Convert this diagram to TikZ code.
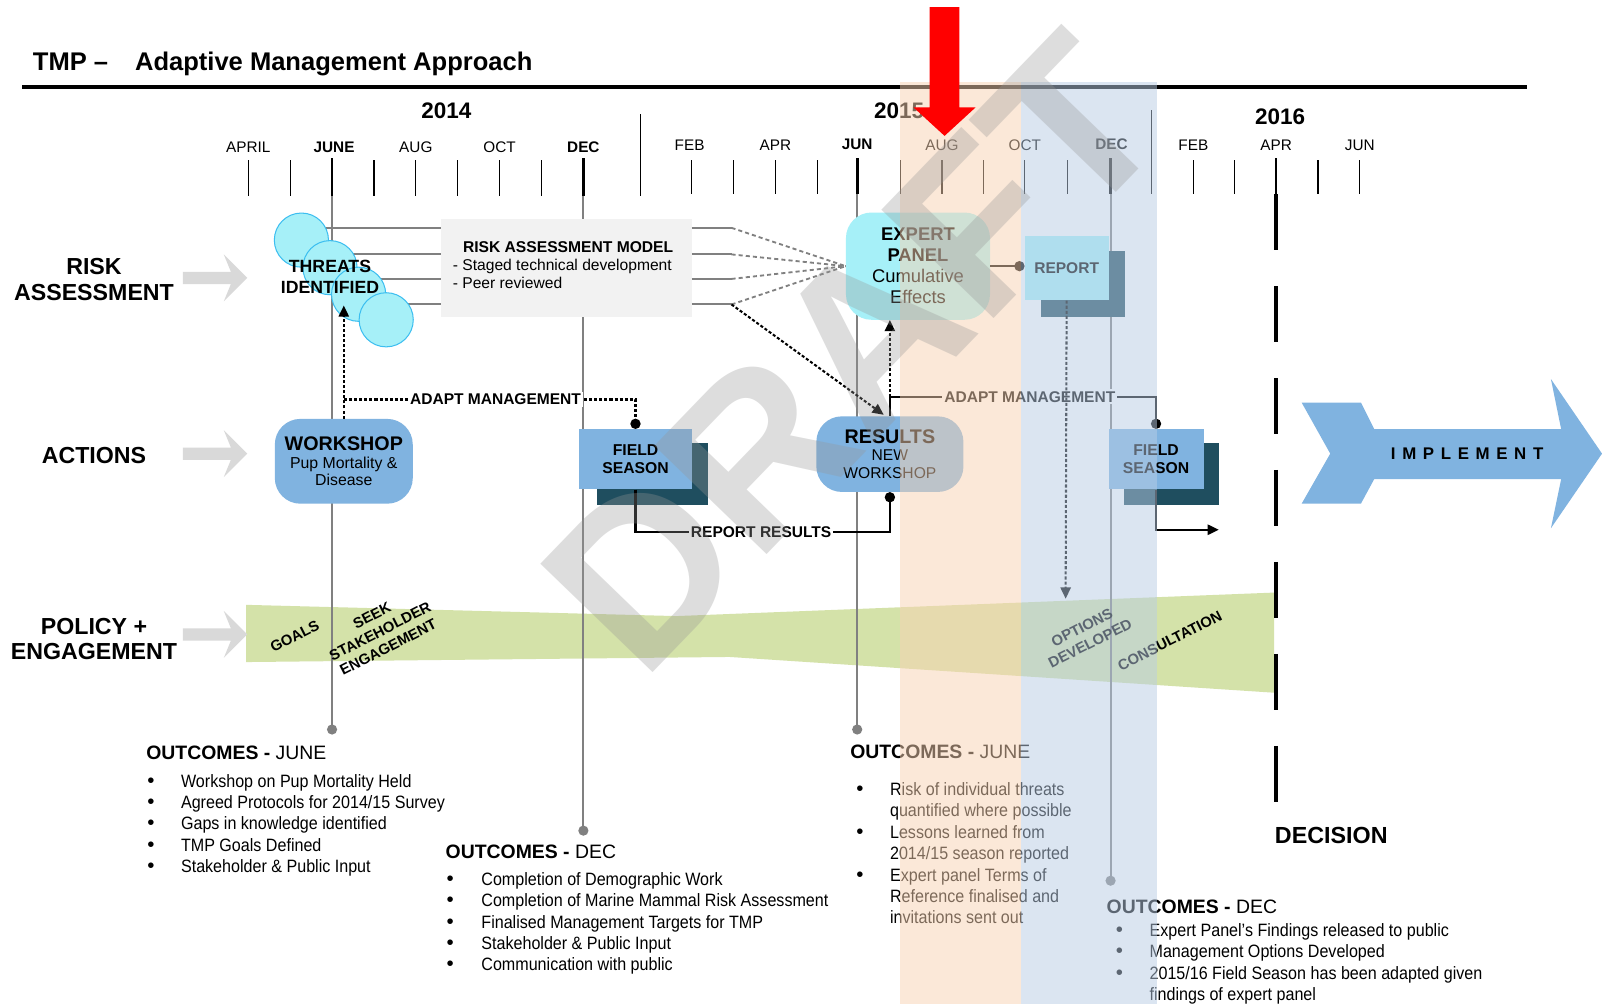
\documentclass[tikz,border=0pt]{standalone}
\usepackage{fontspec}
\setmainfont{Liberation Sans}
\newfontfamily\narrowfont[FakeStretch=0.9]{Liberation Sans}
\usetikzlibrary{arrows.meta}
\definecolor{cyanbox}{RGB}{166,240,248}
\definecolor{cyanline}{RGB}{60,190,240}
\definecolor{actblue}{RGB}{128,179,224}
\definecolor{darkteal}{RGB}{31,78,95}
\definecolor{riskgray}{RGB}{242,242,242}
\definecolor{linegray}{RGB}{128,128,128}
\definecolor{arrgray}{RGB}{217,217,217}
\definecolor{polgreen}{RGB}{212,226,169}
\definecolor{bandorange}{RGB}{249,211,179}
\definecolor{bandblue}{RGB}{185,205,229}
\definecolor{wmgray}{RGB}{150,150,150}
\newcommand\fsz[2]{\fontsize{#1}{#2}\selectfont}
\newcommand\bul{{\fontspec{Liberation Sans}\fsz{20}{21}\textbullet}}
\begin{document}
\begin{tikzpicture}[x=1pt,y=-1pt,
  gline/.style={draw=linegray, line width=2pt},
  tk/.style={draw=black, line width=1.1pt},
  tkb/.style={draw=black, line width=2.6pt},
  dotl/.style={draw=black, line width=2pt, dash pattern=on 3pt off 2pt},
  gdash/.style={draw=linegray, line width=1.8pt, dash pattern=on 4pt off 3pt},
  conn/.style={draw=black, line width=2pt},
  tri/.style={-{Triangle[length=11pt,width=10pt]}},
  dotend/.style={-{Circle[length=10pt,width=10pt]}},
  mon/.style={font=\fsz{15}{18}, inner sep=0},
  monb/.style={font=\bfseries\fsz{15}{18}, inner sep=0},
  yr/.style={font=\bfseries\fsz{22}{26}, inner sep=0},
  rowlbl/.style={font=\bfseries\fsz{22.7}{25}, align=center, inner sep=0},
  circ/.style={circle, minimum size=53pt, inner sep=0, fill=cyanbox, draw=cyanline, line width=1pt},
  actbox/.style={rounded corners=25pt, fill=actblue, inner sep=0, align=center},
  fsfront/.style={fill=actblue, inner sep=0, align=center, font=\bfseries\fsz{15.4}{17}},
  fsback/.style={fill=darkteal, inner sep=0},
  clabel/.style={fill=white, inner sep=2pt, font=\bfseries\fsz{15.2}{17}},
  bandtxt/.style={font=\bfseries\fsz{14.5}{17.5}, align=center, rotate=27, inner sep=0},
  ohead/.style={anchor=base west, inner sep=0, font=\fsz{19}{22}},
  olist/.style={anchor=base west, inner sep=0, font=\narrowfont\fsz{17.5}{21}}
]
\useasboundingbox (0,0) rectangle (1568,983);
\fill[white] (0,0) rectangle (1568,983);

% policy band
\fill[polgreen] (241,592) -- (662,603) -- (1247,580) -- (1247,678) -- (714,643) -- (241,648) -- cycle;

% title
\node[font=\bfseries\fsz{25}{30}, anchor=base west, inner sep=0] (t1) at (32,69) {TMP –};
\node[font=\bfseries\fsz{25}{30}, anchor=base west, inner sep=0] (t2) at (132,69) {Adaptive Management Approach};
\draw[line width=3.5pt] (22,85) -- (1495,85);

% years
\node[yr] (y14) at (437,108) {2014};
\node[yr] (y15) at (880,108) {2015};
\node[yr] (y16) at (1253,114) {2016};

% months
\node[mon] (m1) at (243,144) {APRIL};
\node[monb] (m2) at (327,144) {JUNE};
\node[mon] (m3) at (407,144) {AUG};
\node[mon] (m4) at (489,144) {OCT};
\node[monb] (m5) at (571,144) {DEC};
\node[mon] (m6) at (675,142) {FEB};
\node[mon] (m7) at (759,142) {APR};
\node[monb] (m8) at (839,141) {JUN};
\node[mon] (m9) at (922,142) {AUG};
\node[mon] (m10) at (1003,142) {OCT};
\node[monb] (m11) at (1088,141) {DEC};
\node[mon] (m12) at (1168,142) {FEB};
\node[mon] (m13) at (1249,142) {APR};
\node[mon] (m14) at (1331,142) {JUN};

% ticks
\foreach \x in {243,284,366,407,448,489,530} \draw[tk] (\x,157) -- (\x,192);
\foreach \x in {677,718,759,800,881,922,963,1003,1045,1168,1208,1290,1331} \draw[tk] (\x,157) -- (\x,190);
\draw[tk] (627,112) -- (627,192);
\draw[tk] (1127,108) -- (1127,190);

% long timeline lines
\draw[gline] (325,190) -- (325,714);
\draw[gline] (571,190) -- (571,813);
\draw[gline] (839,188) -- (839,714);
\draw[gline] (1087,188) -- (1087,862);
\foreach \x/\y in {325/714,571/813,839/714,1087/862} \fill[linegray] (\x,\y) circle (5);
\foreach \x in {325,571} \draw[tkb] (\x,155) -- (\x,192);
\foreach \x in {839,1087,1249} \draw[tkb] (\x,155) -- (\x,190);

% decision line
\draw[line width=4pt, dash pattern=on 55pt off 35pt] (1249,190) -- (1249,785);

% row arrows and labels
\foreach \yc in {272,444,621}
  \fill[arrgray] (179,\yc-6) -- (226,\yc-6) -- (219,\yc-23) -- (242,\yc) -- (219,\yc+23) -- (226,\yc+6) -- (179,\yc+6) -- cycle;
\node[rowlbl] (lr) at (92,273.5) {RISK\\ASSESSMENT};
\node[rowlbl] (la) at (92,446) {ACTIONS};
\node[rowlbl] (lp) at (92,625.5) {POLICY +\\ENGAGEMENT};

% risk model box
\node[fill=riskgray, minimum width=245pt, minimum height=96pt, inner sep=0, align=left, font=\fsz{15.3}{17.5}] (rb) at (554.5,262) {};
\node[anchor=west, inner sep=0, align=left, font=\fsz{15.3}{17.2}] (rbt) at (443,259.5)
  {\hspace*{10pt}\textbf{RISK ASSESSMENT MODEL}\\- Staged technical development\\- Peer reviewed};

% coordinates
\coordinate (r1) at (716,223);
\coordinate (r2) at (716,249);
\coordinate (r3) at (716,273);
\coordinate (r4) at (716,298);

% lines from threats to model
\draw[gline] (295,223) -- (rb.west |- r1);
\draw[gline] (323,249) -- (rb.west |- r2);
\draw[gline] (351,273) -- (rb.west |- r3);
\draw[gline] (378,298) -- (rb.west |- r4);
\draw[gline] (rb.east |- r1) -- (r1);
\draw[gline] (rb.east |- r2) -- (r2);
\draw[gline] (rb.east |- r3) -- (r3);
\draw[gline] (rb.east |- r4) -- (r4);

% threats circles
\node[circ] (c1) at (295,235) {};
\node[circ] (c2) at (323,262) {};
\node[circ] (c3) at (351,288) {};
\node[circ] (c4) at (378,313) {};
\node[font=\bfseries\fsz{17.3}{20}, align=center, inner sep=0] (thr) at (323,271) {THREATS\\IDENTIFIED};

% expert panel
\node[rounded corners=25pt, fill=cyanbox, minimum width=141pt, minimum height=105pt, inner sep=0, align=center, font=\fsz{18}{20.5}] (ep) at (898.5,260.5)
  {\textbf{EXPERT}\\\textbf{PANEL}\\Cumulative\\Effects};
\foreach \r in {r1,r2,r3,r4} \draw[gdash] (\r) -- (ep.west);

% report
\node[fsback, minimum width=82pt, minimum height=64pt] (rpb) at (1060,278) {};
\node[fill=cyanbox, minimum width=82pt, minimum height=63pt, inner sep=0, font=\bfseries\fsz{15.2}{17}] (rp) at (1044,262.5) {REPORT};
\draw[conn, dotend] (ep.east) -- (ep.east -| rp.west);

% actions
\node[actbox, minimum width=135pt, minimum height=83pt, font=\fsz{15.5}{17.5}] (ws) at (336.5,451.5)
  {{\bfseries\fsz{19.3}{20}WORKSHOP}\\Pup Mortality \&\\Disease};
\node[fsback, minimum width=109pt, minimum height=60pt] (fs1b) at (638.5,464) {};
\node[fsfront, minimum width=110pt, minimum height=59pt] (fs1) at (622,449.5) {FIELD\\SEASON};
\node[actbox, minimum width=144pt, minimum height=74pt, font=\fsz{15.3}{17.5}] (res) at (871,444.5)
  {{\bfseries\fsz{19.3}{20}RESULTS}\\NEW\\WORKSHOP};
\node[fsback, minimum width=93pt, minimum height=60pt] (fs2b) at (1146.5,464) {};
\node[fsfront, minimum width=93pt, minimum height=59pt] (fs2) at (1131.5,449.5) {FIELD\\SEASON};

% connectors (actions)
\coordinate (thrin) at (336.5,299);
\coordinate (am1) at (336.5,391);
\coordinate (rr) at (745,520.5);
\coordinate (am2) at (871,388.5);
\coordinate (resin) at (865,406);
\coordinate (optin) at (1043,586);
\coordinate (fsout) at (1193,518.5);
\draw[dotl, tri] (ws.north) -- (thrin);
\draw[dotl, dotend] (am1) -| (fs1.north);
\node[clabel] (aml1) at (485,391) {ADAPT MANAGEMENT};
\draw[conn, dotend] (fs1.south) |- (rr) -| (res.south);
\node[clabel] (rrl) at (rr) {REPORT RESULTS};
\draw[dotl, tri] (r4) -- (resin);
\draw[conn, dotend] (res.north) -- (am2) -| (fs2.north);
\node[clabel] (aml2) at (1008,388.5) {ADAPT MANAGEMENT};
\draw[dotl, tri] (am2) -- (am2 |- ep.south);
\draw[dotl, tri] (rp.south) -- (optin);
\draw[conn, tri] (fs2.south) |- (fsout);

% policy band texts
\node[bandtxt] (goals) at (288.5,622.5) {GOALS};
\node[bandtxt] (seek) at (372,618) {SEEK\\STAKEHOLDER\\ENGAGEMENT};
\node[bandtxt] (opt) at (1063,622) {OPTIONS\\DEVELOPED};
\node[bandtxt] (cons) at (1145,627) {CONSULTATION};

% outcomes
\node[ohead] (h1) at (143,743) {\textbf{OUTCOMES -} JUNE};
\node[olist] (l1) at (144,770.3) {\begin{tabular}[t]{@{}p{33pt}@{}l@{}}
\bul & Workshop on Pup Mortality Held\\
\bul & Agreed Protocols for 2014/15 Survey\\
\bul & Gaps in knowledge identified\\
\bul & TMP Goals Defined\\
\bul & Stakeholder \& Public Input
\end{tabular}};
\node[ohead] (h2) at (436,840) {\textbf{OUTCOMES -} DEC};
\node[olist] (l2) at (437,866.3) {\begin{tabular}[t]{@{}p{34pt}@{}l@{}}
\bul & Completion of Demographic Work\\
\bul & Completion of Marine Mammal Risk Assessment\\
\bul & Finalised Management Targets for TMP\\
\bul & Stakeholder \& Public Input\\
\bul & Communication with public
\end{tabular}};
\node[ohead] (h3) at (832,742) {\textbf{OUTCOMES -} JUNE};
\node[olist] (l3) at (838,778.3) {\begin{tabular}[t]{@{}p{33pt}@{}l@{}}
\bul & Risk of individual threats\\
 & quantified where possible\\
\bul & Lessons learned from\\
 & 2014/15 season reported\\
\bul & Expert panel Terms of\\
 & Reference finalised and\\
 & invitations sent out
\end{tabular}};
\node[ohead] (h4) at (1083,894) {\textbf{OUTCOMES -} DEC};
\node[olist] (l4) at (1092,916.3) {\begin{tabular}[t]{@{}p{33pt}@{}l@{}}
\bul & Expert Panel’s Findings released to public\\
\bul & Management Options Developed\\
\bul & 2015/16 Field Season has been adapted given\\
 & findings of expert panel
\end{tabular}};
\node[font=\bfseries\fsz{22.8}{26}, inner sep=0] (dec) at (1303,818) {DECISION};

% implement arrow
\fill[actblue] (1274,394) -- (1332,394) -- (1345,420) -- (1528,420) -- (1518,371) -- (1568,444) -- (1518,517) -- (1528,469) -- (1345,469) -- (1332,493) -- (1274,493) -- (1302,444) -- cycle;
\node[font=\bfseries\fsz{16.5}{20}, inner sep=0] (impl) at (1436,444) {I\kern6.5pt M\kern6.5pt P\kern6.5pt L\kern6.5pt E\kern6.5pt M\kern6.5pt E\kern6.5pt N\kern6.5pt T};

% time bands
\fill[bandorange, opacity=0.5] (881,80) rectangle (999,983);
\fill[bandblue, opacity=0.5] (999,80) rectangle (1132,983);

% watermark
\node[font=\bfseries\fsz{222}{222}, text=wmgray, text opacity=0.32, rotate=46, inner sep=0] (wm) at (835,345) {DRAFT};

% red arrow
\fill[red] (910,7) -- (939,7) -- (939,105) -- (955,105) -- (924.5,133) -- (894,105) -- (910,105) -- cycle;
\end{tikzpicture}
\end{document}
